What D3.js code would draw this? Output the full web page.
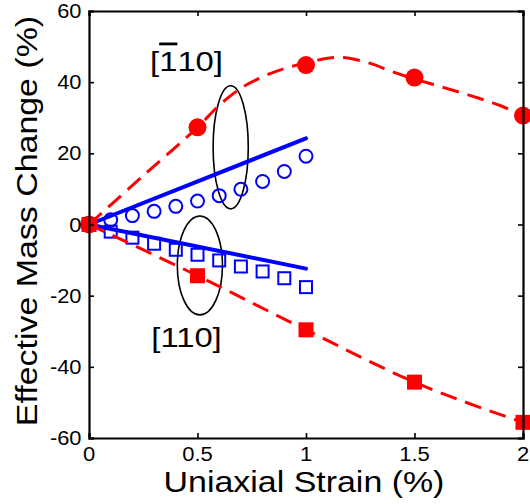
<!DOCTYPE html>
<html>
<head>
<meta charset="utf-8">
<script src="https://cdn.jsdelivr.net/npm/d3@7"></script>
<style>
  html, body { margin: 0; padding: 0; background: #fff; overflow: hidden; }
  svg { display: block; }
  text { font-family: "Liberation Sans", Arial, sans-serif; fill: #000; }
</style>
</head>
<body>
<svg id="chart" width="530" height="504"></svg>
<script>
// ---- data ----
const xTicks = [0, 0.5, 1, 1.5, 2];
const xTickLabels = ["0", "0.5", "1", "1.5", "2"];
const yTicks = [-60, -40, -20, 0, 20, 40, 60];
const yTickLabels = ["-60", "-40", "-20", "0", "20", "40", "60"];

// [-110] calculated (red filled circles) and its dashed fit
const redCircleX = [0, 0.5, 1, 1.5, 2];
const redCircleY = [0, 27.3, 44.8, 41.3, 30.6];
const redCircleFitX = [0, 0.25, 0.5, 0.6, 0.7, 0.8, 0.9, 1.0, 1.1, 1.15, 1.2, 1.3, 1.4, 1.5, 1.6, 1.7, 1.8, 1.9, 2.0];
const redCircleFitY = [0, 13.7, 27.3, 33.5, 38.3, 41.5, 43.8, 45.4, 46.7, 47.0, 46.7, 45.2, 42.9, 40.9, 39.1, 37.3, 35.4, 33.3, 30.6];

// [110] calculated (red filled squares) with dashed line
const redSquareX = [0, 0.5, 1, 1.5, 2];
const redSquareY = [0, -14.4, -29.6, -44.3, -55.6];

// blue open circles ([-110]) and blue open squares ([110])
const blueX = [0.1, 0.2, 0.3, 0.4, 0.5, 0.6, 0.7, 0.8, 0.9, 1.0];
const blueCircleY = [1.3, 2.5, 3.7, 5.1, 6.6, 8.1, 9.9, 12.1, 14.9, 19.2];
const blueSquareY = [-2.0, -3.7, -5.4, -7.1, -8.5, -10.1, -11.8, -13.2, -15.1, -17.6];

// blue solid lines
const blueLineX = [0, 1];
const blueLineUpY = [0, 24.2];
const blueLineDownY = [0, -12.4];

// annotation ellipses (center x, center y, half-width, half-height in data units)
const ellipseCX = [0.653, 0.511];
const ellipseCY = [21.7, -11.5];
const ellipseRX = [0.081, 0.104];
const ellipseRY = [17.3, 13.9];

const xTitle = "Uniaxial Strain (%)";
const yTitle = "Effective Mass Change (%)";

// ---- layout ----
const svg = d3.select("#chart");
const plotL = 89, plotR = 523, plotT = 11, plotB = 438;
const x = d3.scaleLinear().domain([0, 2]).range([plotL, plotR]);
const y = d3.scaleLinear().domain([-60, 60]).range([plotB, plotT]);

const RED = "#ff0000", BLUE = "#0000ff";

// helper: text stretched along its reading direction
function addText(parent, px, py, str, size, stretch, anchor, rotate) {
  return parent.append("text")
    .attr("transform", `translate(${px},${py}) rotate(${rotate || 0}) scale(${stretch},1)`)
    .attr("text-anchor", anchor).attr("font-size", size)
    .text(str);
}

// ellipses
const ell = svg.append("g");
ellipseCX.forEach((cx, i) => {
  ell.append("ellipse")
    .attr("cx", x(cx)).attr("cy", y(ellipseCY[i]))
    .attr("rx", x(ellipseRX[i]) - x(0))
    .attr("ry", y(0) - y(ellipseRY[i]))
    .attr("fill", "none").attr("stroke", "#000").attr("stroke-width", 1.6);
});

// blue solid lines
const line = d3.line().x(d => x(d[0])).y(d => y(d[1]));
[blueLineUpY, blueLineDownY].forEach(ys => {
  svg.append("path")
    .datum(blueLineX.map((v, i) => [v, ys[i]]))
    .attr("d", line)
    .attr("fill", "none").attr("stroke", BLUE).attr("stroke-width", 4)
    .attr("stroke-linecap", "round");
});

// blue open circles
svg.append("g").selectAll("circle")
  .data(blueX.map((v, i) => [v, blueCircleY[i]]))
  .join("circle")
  .attr("cx", d => x(d[0])).attr("cy", d => y(d[1])).attr("r", 6.5)
  .attr("fill", "none").attr("stroke", BLUE).attr("stroke-width", 2);

// blue open squares
const bs = 12;
svg.append("g").selectAll("rect")
  .data(blueX.map((v, i) => [v, blueSquareY[i]]))
  .join("rect")
  .attr("x", d => x(d[0]) - bs / 2).attr("y", d => y(d[1]) - bs / 2)
  .attr("width", bs).attr("height", bs)
  .attr("fill", "none").attr("stroke", BLUE).attr("stroke-width", 2);

// red dashed curves
const curveLine = d3.line().x(d => x(d[0])).y(d => y(d[1])).curve(d3.curveCatmullRom.alpha(0.5));
svg.append("path")
  .datum(redCircleFitX.map((v, i) => [v, redCircleFitY[i]]))
  .attr("d", curveLine)
  .attr("fill", "none").attr("stroke", RED).attr("stroke-width", 3)
  .attr("stroke-dasharray", "17,9");
svg.append("path")
  .datum(redSquareX.map((v, i) => [v, redSquareY[i]]))
  .attr("d", d3.line().x(d => x(d[0])).y(d => y(d[1])).curve(d3.curveMonotoneX))
  .attr("fill", "none").attr("stroke", RED).attr("stroke-width", 3)
  .attr("stroke-dasharray", "17,9");

// red filled circles
svg.append("g").selectAll("circle")
  .data(redCircleX.map((v, i) => [v, redCircleY[i]]))
  .join("circle")
  .attr("cx", d => x(d[0])).attr("cy", d => y(d[1])).attr("r", 9)
  .attr("fill", RED);

// red filled squares
const rs = 15;
svg.append("g").selectAll("rect")
  .data(redSquareX.map((v, i) => [v, redSquareY[i]]))
  .join("rect")
  .attr("x", d => x(d[0]) - rs / 2).attr("y", d => y(d[1]) - rs / 2)
  .attr("width", rs).attr("height", rs)
  .attr("fill", RED);

// axes box with inward ticks on all sides
const tickLen = 5;
const axB = d3.axisBottom(x).tickValues(xTicks).tickSize(-tickLen).tickFormat(() => "");
const axT = d3.axisTop(x).tickValues(xTicks).tickSize(-tickLen).tickFormat(() => "");
const axL = d3.axisLeft(y).tickValues(yTicks).tickSize(-tickLen).tickFormat(() => "");
const axR = d3.axisRight(y).tickValues(yTicks).tickSize(-tickLen).tickFormat(() => "");
[[axB, `translate(0,${plotB})`], [axT, `translate(0,${plotT})`],
 [axL, `translate(${plotL},0)`], [axR, `translate(${plotR},0)`]].forEach(([ax, tr]) => {
  const g = svg.append("g").attr("transform", tr).call(ax);
  g.select(".domain").attr("stroke", "#000").attr("stroke-width", 2.2);
  g.selectAll(".tick line").attr("stroke", "#000").attr("stroke-width", 1.6);
});

// tick labels
const xtg = svg.append("g");
xTicks.forEach((d, i) => addText(xtg, x(d), 461, xTickLabels[i], 19.5, 1.13, "middle"));
const ytg = svg.append("g");
yTicks.forEach((d, i) => addText(ytg, 81.5, y(d) + 7, yTickLabels[i], 19.5, 1.12, "end"));

// axis titles
addText(svg, 304, 492, xTitle, 29, 1.17, "middle");
addText(svg, 37, 221, yTitle, 29, 1.17, "middle", -90);

// direction labels
const lbl1 = svg.append("text")
  .attr("transform", "translate(186.5,71) scale(1.17,1)")
  .attr("text-anchor", "middle").attr("font-size", 28);
lbl1.append("tspan").text("[");
lbl1.append("tspan").attr("style", "text-decoration: overline").text("1");
lbl1.append("tspan").text("10]");
addText(svg, 186.5, 347, "[110]", 28, 1.17, "middle");
</script>
</body>
</html>
